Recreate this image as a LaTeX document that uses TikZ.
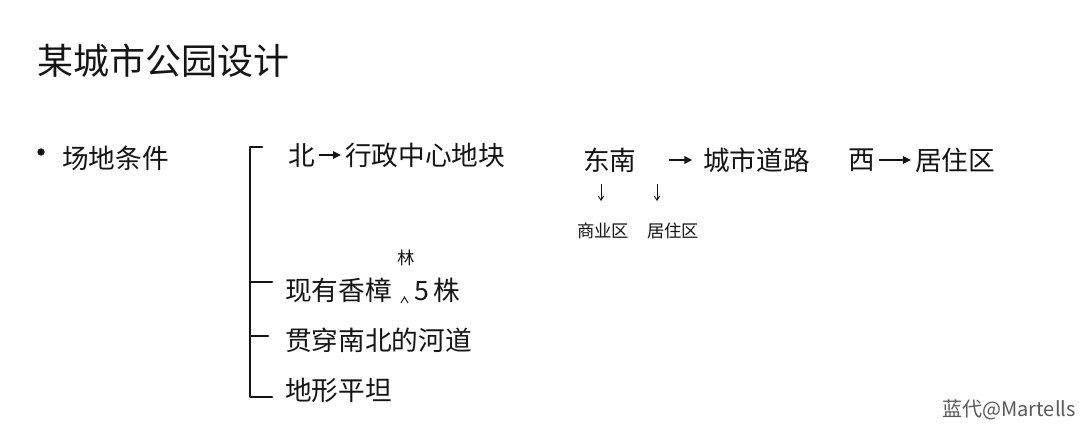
\documentclass[tikz,border=0pt]{standalone}
\usepackage{fontspec}
\setmainfont{Noto Sans CJK SC}
\usetikzlibrary{arrows.meta}
\definecolor{ink}{HTML}{141414}
\definecolor{wmgray}{HTML}{5A5A5A}
\begin{document}
\begin{tikzpicture}[x=0.75pt,y=-0.75pt,
  txt/.style={inner sep=0pt, anchor=west, text=ink, font=\fontsize{20pt}{22pt}\selectfont},
  small/.style={inner sep=0pt, text=ink, font=\fontsize{13pt}{15pt}\selectfont},
  arr/.style={draw=ink, -{Triangle[length=6pt,width=5.5pt]}, line width=1.6pt, shorten >=3pt, shorten <=3pt},
  tarr/.style={draw=ink, -{Straight Barb[length=3pt,width=4pt]}, line width=0.7pt},
  brk/.style={draw=ink, line width=2.2pt, line cap=round, line join=round}]
\useasboundingbox (0,0) rectangle (1080,424);
\fill[white] (0,0) rectangle (1080,424);
% title
\node[inner sep=0pt, anchor=west, text=ink, font=\fontsize{27pt}{29pt}\selectfont] (title) at (37,61) {某城市公园设计};
% bullet and heading
\node[circle, fill=ink, inner sep=0pt, minimum size=5.5pt] (bullet) at (41,152) {};
\node[txt] (cond) at (62,158) {场地条件};
% bracket
\coordinate (bt) at (262,147);
\coordinate (bl) at (250,147);
\coordinate (bb) at (250,397);
\coordinate (be) at (272,397);
\coordinate (t1a) at (250,282);
\coordinate (t1b) at (272,282);
\coordinate (t2a) at (250,336);
\coordinate (t2b) at (268,336);
\draw[brk] (bt) -- (bl) -- (bb) -- (be);
\draw[brk] (t1a) -- (t1b);
\draw[brk] (t2a) -- (t2b);
% first row
\node[txt] (n) at (288,155) {北};
\node[txt] (nv) at (345,155) {行政中心地块};
\draw[arr] (n) -- (nv);
\node[txt] (se) at (583,160) {东南};
\node[txt] (sev) at (703,160) {城市道路};
\draw[arr, shorten <=24pt, shorten >=8pt] (se) -- (sev);
\node[txt] (w) at (848,160) {西};
\node[txt] (wv) at (915,160) {居住区};
\draw[arr] (w) -- (wv);
% sub arrows
\coordinate (d1s) at (601,184);
\coordinate (d1e) at (601,201);
\coordinate (d2s) at (657,184);
\coordinate (d2e) at (657,201);
\draw[tarr] (d1s) -- (d1e);
\draw[tarr] (d2s) -- (d2e);
\node[small] (biz) at (603,231) {商业区};
\node[small] (res) at (673,231) {居住区};
% other rows
\node[txt] (tree) at (285,290) {现有香樟};
\node[small] (lin) at (406,258) {林};
\coordinate (c1) at (401,303);
\coordinate (c2) at (404.5,297);
\coordinate (c3) at (408,303);
\draw[draw=ink, line width=0.7pt] (c1) -- (c2) -- (c3);
\node[txt] (five) at (414,290) {5\,株};
\node[txt] (river) at (285,340) {贯穿南北的河道};
\node[txt] (flat) at (285,390) {地形平坦};
% watermark
\node[inner sep=0pt, anchor=east, text=wmgray, font=\fontsize{15pt}{17pt}\selectfont] (wm) at (1076,410) {蓝代@Martells};
\end{tikzpicture}
\end{document}
